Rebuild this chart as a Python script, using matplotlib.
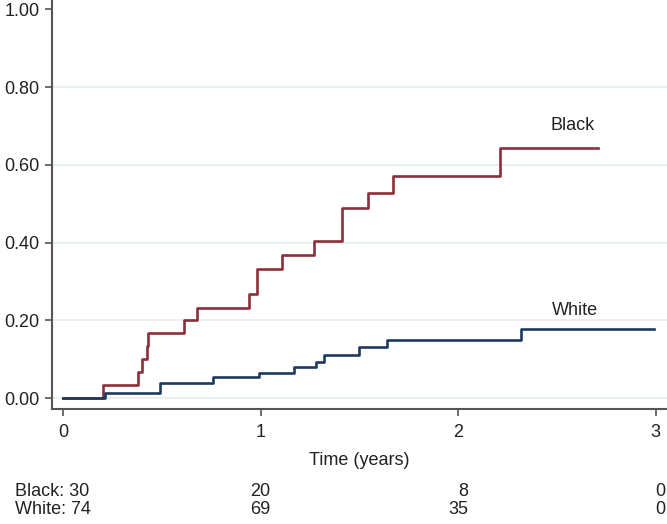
import matplotlib
matplotlib.use('Agg')
import matplotlib.pyplot as plt
import matplotlib.transforms as mtransforms

# cumulative incidence (step functions)
black_t = [0, 0.20, 0.38, 0.40, 0.425, 0.43, 0.61, 0.68, 0.94, 0.98, 1.11, 1.27, 1.41, 1.545, 1.67, 2.21, 2.71]
black_v = [0, 0.033, 0.067, 0.100, 0.133, 0.167, 0.200, 0.233, 0.267, 0.333, 0.367, 0.403, 0.488, 0.527, 0.571, 0.643, 0.643]
white_t = [0, 0.21, 0.49, 0.76, 0.99, 1.17, 1.28, 1.32, 1.50, 1.64, 2.32, 2.99]
white_v = [0, 0.013, 0.040, 0.054, 0.065, 0.081, 0.093, 0.110, 0.131, 0.149, 0.177, 0.177]

x_ticks = [0, 1, 2, 3]
y_ticks = [0.0, 0.2, 0.4, 0.6, 0.8, 1.0]
at_risk_black = [30, 20, 8, 0]
at_risk_white = [74, 69, 35, 0]

BLACK_COL = '#8c2d3a'
WHITE_COL = '#1d3a5e'
TEXT_COL = '#222222'

plt.rcParams['font.family'] = ['Liberation Sans', 'DejaVu Sans']
plt.rcParams['font.size'] = 13

fig = plt.figure(figsize=(6.67, 5.24), dpi=100)
ax = fig.add_axes([52 / 667, 1 - 409 / 524, 1 - 52 / 667, 409 / 524])

for v in y_ticks[:-1]:
    ax.axhline(v, color='#e4edf2', lw=1.2, zorder=0)

ax.plot(black_t, black_v, drawstyle='steps-post', color=BLACK_COL, lw=1.9)
ax.plot(white_t, white_v, drawstyle='steps-post', color=WHITE_COL, lw=1.9)

ax.text(2.58, 0.70, 'Black', ha='center', va='center', color=TEXT_COL)
ax.text(2.59, 0.225, 'White', ha='center', va='center', color=TEXT_COL)

ax.set_xlim(-0.056, 3.058)
ax.set_ylim(-0.028, 1.024)
ax.set_xticks(x_ticks)
ax.set_yticks(y_ticks)
ax.set_yticklabels([f'{v:.2f}' for v in y_ticks])
ax.tick_params(axis='both', colors='#555555', labelcolor=TEXT_COL, length=5, width=1.2)
ax.tick_params(axis='x', pad=6)
ax.tick_params(axis='y', pad=4)

for side in ['top', 'right']:
    ax.spines[side].set_visible(False)
for side in ['left', 'bottom']:
    ax.spines[side].set_color('#555555')
    ax.spines[side].set_linewidth(1.5)

ax.set_xlabel('Time (years)', color=TEXT_COL, labelpad=8)

# numbers at risk
trans = mtransforms.blended_transform_factory(ax.transData, fig.transFigure)
row_y = [1 - 491 / 524, 1 - 509 / 524]
for i, t in enumerate(x_ticks):
    if i == 0:
        ax.text(-0.245, row_y[0], f'Black: {at_risk_black[i]}', ha='left', va='center',
                transform=trans, color=TEXT_COL, clip_on=False)
        ax.text(-0.245, row_y[1], f'White: {at_risk_white[i]}', ha='left', va='center',
                transform=trans, color=TEXT_COL, clip_on=False)
    else:
        ax.text(t + 0.05, row_y[0], str(at_risk_black[i]), ha='right', va='center',
                transform=trans, color=TEXT_COL, clip_on=False)
        ax.text(t + 0.05, row_y[1], str(at_risk_white[i]), ha='right', va='center',
                transform=trans, color=TEXT_COL, clip_on=False)

fig.savefig('out.png', dpi=100)
